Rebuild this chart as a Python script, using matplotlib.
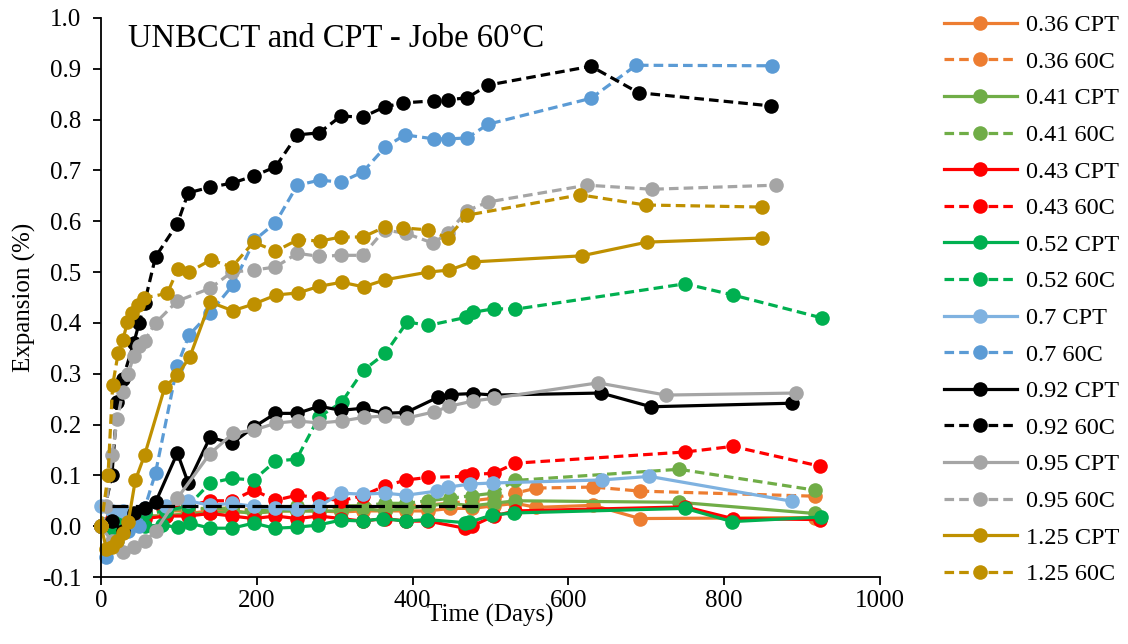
import matplotlib
matplotlib.use("Agg")
import matplotlib.pyplot as plt

plt.rcParams['font.family'] = ['Liberation Serif', 'DejaVu Serif']

# ---------------- data ----------------
labels = ["0.36 CPT", "0.36 60C", "0.41 CPT", "0.41 60C", "0.43 CPT", "0.43 60C",
          "0.52 CPT", "0.52 60C", "0.7 CPT", "0.7 60C", "0.92 CPT", "0.92 60C",
          "0.95 CPT", "0.95 60C", "1.25 CPT", "1.25 60C"]

d_036 = [0, 14, 28, 56, 84, 112, 140, 168, 196, 224, 252, 280, 308, 336, 364, 392, 420, 448, 476, 504, 532, 559, 632, 692, 916]
v_036_cpt = [0.0, 0.01, 0.015, 0.02, 0.02, 0.025, 0.03, 0.03, 0.025, 0.03, 0.03, 0.03, 0.028, 0.03, 0.03, 0.03, 0.03, 0.035, 0.035, 0.04, 0.045, 0.037, 0.041, 0.015, 0.017]
v_036_60c = [0.0, 0.015, 0.02, 0.025, 0.03, 0.03, 0.035, 0.035, 0.032, 0.035, 0.035, 0.035, 0.038, 0.04, 0.04, 0.04, 0.042, 0.045, 0.05, 0.055, 0.065, 0.075, 0.077, 0.069, 0.059]

d_041 = [0, 14, 28, 56, 84, 112, 140, 168, 196, 224, 252, 280, 308, 336, 364, 392, 420, 448, 476, 504, 532, 742, 916]
v_041_cpt = [0.0, 0.01, 0.015, 0.02, 0.02, 0.025, 0.025, 0.03, 0.025, 0.03, 0.03, 0.03, 0.03, 0.035, 0.03, 0.035, 0.04, 0.045, 0.04, 0.045, 0.05, 0.047, 0.025]
v_041_60c = [0.0, 0.015, 0.02, 0.025, 0.03, 0.035, 0.035, 0.035, 0.03, 0.035, 0.04, 0.035, 0.04, 0.04, 0.045, 0.045, 0.05, 0.055, 0.06, 0.065, 0.09, 0.112, 0.071]

d_043 = [0, 14, 28, 56, 84, 112, 140, 168, 196, 224, 252, 280, 308, 336, 364, 392, 420, 467, 476, 504, 532, 750, 811, 923]
v_043_cpt = [0.0, 0.01, 0.01, 0.015, 0.02, 0.02, 0.025, 0.02, 0.015, 0.02, 0.015, 0.02, 0.015, 0.01, 0.015, 0.01, 0.01, -0.004, 0.0, 0.02, 0.03, 0.038, 0.015, 0.013]
v_043_60c = [0.0, 0.015, 0.02, 0.03, 0.035, 0.04, 0.05, 0.05, 0.071, 0.051, 0.061, 0.056, 0.05, 0.06, 0.079, 0.091, 0.096, 0.098, 0.102, 0.104, 0.124, 0.146, 0.157, 0.118]

d_052_cpt = [0, 14, 28, 56, 78, 99, 114, 140, 168, 196, 223, 251, 278, 308, 336, 362, 391, 418, 467, 473, 502, 530, 750, 810, 924]
v_052_cpt = [0.0, -0.005, 0.0, 0.0, 0.002, -0.002, 0.006, -0.004, -0.004, 0.006, -0.004, -0.002, 0.002, 0.012, 0.01, 0.015, 0.01, 0.013, 0.007, 0.008, 0.022, 0.026, 0.035, 0.009, 0.018]
d_052_60c = [0, 14, 28, 56, 84, 112, 140, 168, 196, 224, 251, 280, 309, 337, 365, 393, 420, 469, 478, 505, 532, 750, 811, 925]
v_052_60c = [0.0, 0.01, 0.02, 0.025, 0.03, 0.04, 0.085, 0.094, 0.091, 0.128, 0.132, 0.215, 0.244, 0.307, 0.34, 0.402, 0.395, 0.411, 0.421, 0.428, 0.427, 0.477, 0.455, 0.41]

d_07_cpt = [0, 14, 28, 56, 84, 112, 140, 168, 196, 224, 252, 280, 308, 336, 364, 392, 431, 446, 474, 503, 643, 704, 887]
v_07_cpt = [0.04, 0.03, 0.03, 0.035, 0.04, 0.05, 0.041, 0.045, 0.039, 0.035, 0.033, 0.039, 0.065, 0.063, 0.065, 0.061, 0.069, 0.077, 0.083, 0.085, 0.091, 0.098, 0.049]
d_07_60c = [7, 21, 35, 49, 70, 98, 113, 140, 169, 197, 224, 252, 281, 308, 336, 365, 390, 428, 445, 470, 497, 629, 687, 861]
v_07_60c = [-0.06, -0.03, -0.01, 0.0, 0.105, 0.316, 0.376, 0.42, 0.474, 0.563, 0.597, 0.671, 0.681, 0.677, 0.697, 0.746, 0.77, 0.762, 0.762, 0.764, 0.791, 0.842, 0.907, 0.906]

d_092_cpt = [0, 14, 28, 42, 56, 70, 98, 112, 140, 168, 196, 224, 252, 280, 308, 336, 364, 392, 433, 449, 477, 505, 642, 706, 887]
v_092_cpt = [0.0, 0.01, -0.01, 0.025, 0.035, 0.047, 0.144, 0.085, 0.175, 0.163, 0.195, 0.222, 0.222, 0.236, 0.228, 0.232, 0.222, 0.224, 0.254, 0.259, 0.261, 0.258, 0.262, 0.235, 0.242]
d_092_60c = [0, 14, 21, 28, 42, 49, 56, 70, 98, 112, 140, 168, 196, 224, 252, 280, 308, 336, 364, 388, 428, 445, 470, 497, 629, 690, 860]
v_092_60c = [0.0, 0.1, 0.245, 0.29, 0.36, 0.4, 0.44, 0.53, 0.595, 0.656, 0.667, 0.675, 0.689, 0.707, 0.77, 0.774, 0.807, 0.805, 0.825, 0.833, 0.837, 0.839, 0.843, 0.868, 0.905, 0.853, 0.827]

d_095_cpt = [0, 14, 28, 42, 56, 70, 98, 140, 170, 196, 225, 253, 280, 309, 337, 365, 393, 428, 447, 477, 505, 638, 725, 892]
v_095_cpt = [0.0, -0.03, -0.05, -0.04, -0.03, -0.01, 0.055, 0.143, 0.183, 0.189, 0.203, 0.207, 0.203, 0.207, 0.214, 0.217, 0.213, 0.225, 0.236, 0.246, 0.252, 0.282, 0.258, 0.262]
d_095_60c = [0, 7, 14, 21, 28, 35, 42, 49, 56, 70, 98, 140, 168, 196, 224, 252, 280, 308, 336, 364, 392, 426, 445, 470, 497, 624, 707, 866]
v_095_60c = [0.0, 0.04, 0.14, 0.21, 0.265, 0.3, 0.335, 0.355, 0.365, 0.4, 0.443, 0.468, 0.5, 0.504, 0.51, 0.537, 0.531, 0.533, 0.533, 0.583, 0.576, 0.557, 0.576, 0.621, 0.638, 0.671, 0.663, 0.671]

d_125_cpt = [0, 7, 14, 21, 28, 35, 44, 56, 82, 98, 114, 140, 169, 196, 225, 253, 280, 309, 337, 365, 420, 447, 477, 617, 701, 848]
v_125_cpt = [0.0, -0.045, -0.04, -0.03, -0.014, 0.008, 0.09, 0.14, 0.274, 0.297, 0.333, 0.441, 0.424, 0.437, 0.455, 0.459, 0.472, 0.48, 0.471, 0.485, 0.5, 0.504, 0.52, 0.532, 0.559, 0.567]
d_125_60c = [0, 9, 15, 22, 28, 34, 40, 48, 55, 85, 99, 113, 141, 168, 196, 224, 253, 281, 308, 336, 365, 388, 420, 445, 470, 615, 699, 849]
v_125_60c = [0.0, 0.1, 0.278, 0.34, 0.366, 0.402, 0.42, 0.435, 0.449, 0.458, 0.507, 0.5, 0.524, 0.51, 0.559, 0.541, 0.564, 0.561, 0.569, 0.569, 0.589, 0.587, 0.583, 0.567, 0.612, 0.652, 0.632, 0.628]

limit_days = [14, 485]
limit_vals = [0.04, 0.04]

x_ticks = [0, 200, 400, 600, 800, 1000]
y_ticks = [-0.1, 0.0, 0.1, 0.2, 0.3, 0.4, 0.5, 0.6, 0.7, 0.8, 0.9, 1.0]

series = [
    (d_036, v_036_cpt, "#ED7D31", "-"),
    (d_036, v_036_60c, "#ED7D31", "--"),
    (d_041, v_041_cpt, "#70AD47", "-"),
    (d_041, v_041_60c, "#70AD47", "--"),
    (d_043, v_043_cpt, "#FF0000", "-"),
    (d_043, v_043_60c, "#FF0000", "--"),
    (d_052_cpt, v_052_cpt, "#00B050", "-"),
    (d_052_60c, v_052_60c, "#00B050", "--"),
    (d_07_cpt, v_07_cpt, "#7FB2E0", "-"),
    (d_07_60c, v_07_60c, "#5B9BD5", "--"),
    (d_092_cpt, v_092_cpt, "#000000", "-"),
    (d_092_60c, v_092_60c, "#000000", "--"),
    (d_095_cpt, v_095_cpt, "#A5A5A5", "-"),
    (d_095_60c, v_095_60c, "#A5A5A5", "--"),
    (d_125_cpt, v_125_cpt, "#BF9000", "-"),
    (d_125_60c, v_125_60c, "#BF9000", "--"),
]

fig = plt.figure(figsize=(11.28, 6.44), dpi=100)
ax = fig.add_axes([101 / 1128, 1 - 577 / 644, 779 / 1128, 559 / 644])

for (d, v, c, ls), lab in zip(series, labels):
    line, = ax.plot(d, v, color=c, lw=2.3, marker='o', markersize=10.5,
                    markeredgewidth=0, label=lab, clip_on=False)
    if ls == "--":
        line.set_dashes([3, 1.6])

lim, = ax.plot(limit_days, limit_vals, color='black', lw=2.3)
lim.set_dashes([5, 2.3])

ax.set_xlim(0, 1000)
ax.set_ylim(-0.1, 1.0)
ax.set_xticks(x_ticks)
ax.set_yticks(y_ticks)
ax.set_yticklabels([f"{t:.1f}" for t in y_ticks])
ax.tick_params(axis='both', direction='out', length=6, width=1.3, labelsize=18)
ax.tick_params(axis='y', pad=8)
for s in ['top', 'right']:
    ax.spines[s].set_visible(False)
for s in ['left', 'bottom']:
    ax.spines[s].set_linewidth(1.3)

ax.set_xlabel("Time (Days)", fontsize=18, labelpad=-6)
ax.set_ylabel("Expansion (%)", fontsize=18, labelpad=4)

ax.text(0.035, 0.99, "UNBCCT and CPT - Jobe 60°C", transform=ax.transAxes,
        fontsize=23.5, va='top', ha='left')

leg = fig.legend(loc='upper left', bbox_to_anchor=(0.828, 0.993), frameon=False,
                 fontsize=17.5, handlelength=3.0, labelspacing=0.6, handletextpad=0.4,
                 borderaxespad=0)

fig.savefig("out.png", dpi=100)
